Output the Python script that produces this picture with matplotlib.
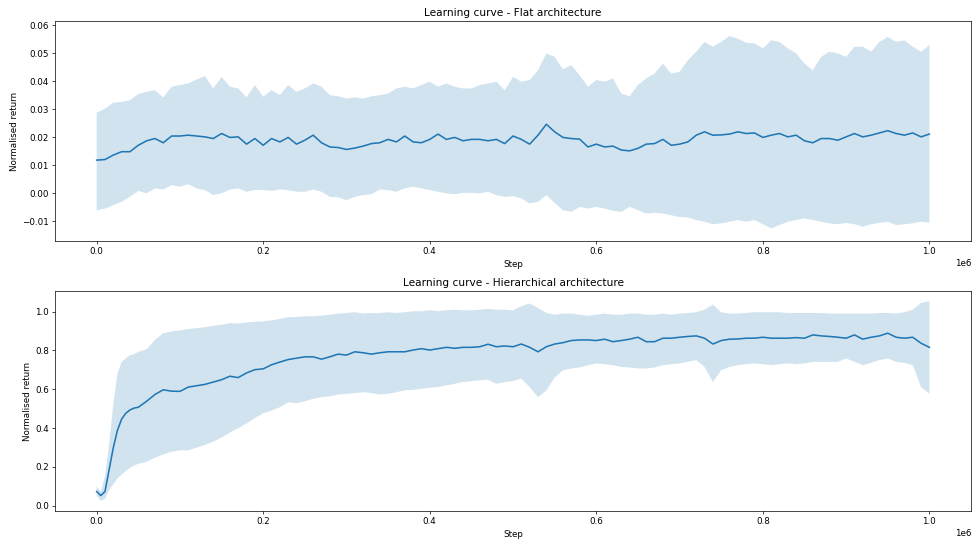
import numpy as np
import matplotlib
matplotlib.use("Agg")
import matplotlib.pyplot as plt

# grid of training steps (x 1e6)
flat_steps = np.linspace(0, 1e6, 101)

flat_mean = [
    0.0118, 0.0120, 0.0136, 0.0148, 0.0148, 0.0171, 0.0187, 0.0195, 0.0180, 0.0204,
    0.0204, 0.0207, 0.0204, 0.0201, 0.0195, 0.0213, 0.0199, 0.0201, 0.0175, 0.0195,
    0.0171, 0.0195, 0.0183, 0.0199, 0.0175, 0.0189, 0.0207, 0.0180, 0.0165, 0.0163,
    0.0156, 0.0161, 0.0168, 0.0177, 0.0180, 0.0192, 0.0183, 0.0204, 0.0183, 0.0180,
    0.0192, 0.0211, 0.0192, 0.0199, 0.0187, 0.0192, 0.0192, 0.0187, 0.0192, 0.0177,
    0.0204, 0.0192, 0.0175, 0.0207, 0.0246, 0.0219, 0.0199, 0.0195, 0.0193, 0.0165,
    0.0175, 0.0165, 0.0168, 0.0154, 0.0151, 0.0160, 0.0175, 0.0177, 0.0192, 0.0171,
    0.0175, 0.0183, 0.0207, 0.0219, 0.0207, 0.0208, 0.0211, 0.0219, 0.0213, 0.0215,
    0.0199, 0.0207, 0.0213, 0.0201, 0.0207, 0.0187, 0.0180, 0.0195, 0.0195, 0.0189,
    0.0201, 0.0213, 0.0201, 0.0207, 0.0215, 0.0223, 0.0213, 0.0207, 0.0215, 0.0201,
    0.0211,
]
flat_upper = [
    0.0287, 0.0302, 0.0323, 0.0326, 0.0332, 0.0354, 0.0362, 0.0368, 0.0342, 0.0380,
    0.0386, 0.0392, 0.0406, 0.0418, 0.0374, 0.0415, 0.0380, 0.0374, 0.0342, 0.0386,
    0.0344, 0.0368, 0.0350, 0.0386, 0.0362, 0.0374, 0.0392, 0.0380, 0.0350, 0.0346,
    0.0338, 0.0342, 0.0338, 0.0346, 0.0350, 0.0356, 0.0374, 0.0380, 0.0374, 0.0386,
    0.0398, 0.0380, 0.0392, 0.0380, 0.0374, 0.0374, 0.0386, 0.0392, 0.0398, 0.0368,
    0.0415, 0.0398, 0.0404, 0.0439, 0.0499, 0.0487, 0.0442, 0.0457, 0.0421, 0.0380,
    0.0404, 0.0398, 0.0410, 0.0356, 0.0346, 0.0386, 0.0410, 0.0427, 0.0463, 0.0427,
    0.0433, 0.0475, 0.0505, 0.0540, 0.0523, 0.0540, 0.0561, 0.0552, 0.0537, 0.0535,
    0.0517, 0.0546, 0.0540, 0.0517, 0.0499, 0.0463, 0.0439, 0.0487, 0.0505, 0.0499,
    0.0487, 0.0523, 0.0523, 0.0505, 0.0540, 0.0558, 0.0540, 0.0546, 0.0523, 0.0505,
    0.0529,
]
flat_lower = [
    -0.0061, -0.0055, -0.0043, -0.0031, -0.0013, 0.0008, -0.0001, 0.0017, 0.0013, 0.0029,
    0.0023, 0.0032, 0.0017, 0.0011, -0.0007, -0.0001, 0.0013, 0.0017, 0.0005, 0.0011,
    0.0011, 0.0008, 0.0013, 0.0011, 0.0005, 0.0005, 0.0013, 0.0005, -0.0013, -0.0015,
    -0.0025, -0.0013, -0.0007, -0.0004, 0.0013, 0.0011, 0.0005, 0.0017, 0.0023, 0.0017,
    0.0011, 0.0005, -0.0001, -0.0004, 0.0001, 0.0001, -0.0001, 0.0005, -0.0007, -0.0013,
    -0.0011, -0.0019, -0.0037, -0.0031, -0.0007, -0.0035, -0.0061, -0.0067, -0.0049, -0.0055,
    -0.0049, -0.0055, -0.0063, -0.0067, -0.0049, -0.0061, -0.0073, -0.0070, -0.0073, -0.0079,
    -0.0085, -0.0087, -0.0096, -0.0102, -0.0111, -0.0108, -0.0102, -0.0096, -0.0102, -0.0096,
    -0.0111, -0.0126, -0.0114, -0.0102, -0.0096, -0.0090, -0.0096, -0.0102, -0.0108, -0.0111,
    -0.0106, -0.0111, -0.0120, -0.0111, -0.0106, -0.0102, -0.0114, -0.0111, -0.0108, -0.0102,
    -0.0106,
]

# finer sampling at the start where the hierarchical curve shoots up
hier_steps = np.concatenate([
    [0, 5e3, 10e3, 15e3, 20e3, 25e3, 30e3, 35e3, 40e3, 45e3, 50e3],
    np.linspace(60e3, 1e6, 95),
])

hier_mean = [
    0.073, 0.052, 0.073, 0.186, 0.299, 0.389, 0.446, 0.476, 0.493, 0.503, 0.507,
    0.538, 0.573, 0.597, 0.590,
    0.589, 0.611, 0.618, 0.625, 0.637, 0.649, 0.667, 0.660, 0.684, 0.701,
    0.705, 0.726, 0.740, 0.753, 0.760, 0.767, 0.767, 0.755, 0.767, 0.781,
    0.776, 0.793, 0.788, 0.781, 0.788, 0.793, 0.793, 0.793, 0.802, 0.809,
    0.802, 0.809, 0.816, 0.811, 0.816, 0.816, 0.819, 0.832, 0.819, 0.823,
    0.819, 0.833, 0.816, 0.793, 0.819, 0.833, 0.840, 0.851, 0.854, 0.854,
    0.851, 0.858, 0.845, 0.851, 0.858, 0.868, 0.845, 0.845, 0.863, 0.863,
    0.868, 0.872, 0.875, 0.863, 0.833, 0.851, 0.858, 0.859, 0.863, 0.863,
    0.868, 0.863, 0.863, 0.863, 0.866, 0.863, 0.880, 0.875, 0.872, 0.868,
    0.863, 0.880, 0.858, 0.868, 0.875, 0.889, 0.868, 0.863, 0.868, 0.837,
    0.816,
]
hier_upper = [
    0.099, 0.073, 0.151, 0.316, 0.524, 0.681, 0.741, 0.759, 0.776, 0.781, 0.793,
    0.806, 0.854, 0.889, 0.898,
    0.903, 0.910, 0.915, 0.920, 0.927, 0.932, 0.941, 0.938, 0.944, 0.948,
    0.950, 0.955, 0.962, 0.972, 0.972, 0.976, 0.976, 0.979, 0.984, 0.990,
    0.993, 0.997, 0.990, 0.993, 0.993, 0.997, 0.993, 0.997, 1.002, 1.002,
    1.007, 1.002, 1.007, 1.010, 1.007, 1.007, 1.010, 1.014, 1.010, 1.010,
    1.007, 1.028, 1.042, 1.019, 0.993, 0.984, 0.990, 0.990, 0.984, 0.979,
    0.984, 0.990, 0.984, 0.984, 0.990, 0.990, 0.984, 0.984, 0.990, 0.984,
    0.990, 0.993, 0.997, 1.010, 1.036, 0.997, 0.990, 0.990, 0.993, 0.997,
    0.997, 0.997, 0.997, 0.993, 0.993, 0.993, 0.993, 0.993, 0.990, 0.990,
    0.990, 0.990, 0.990, 0.990, 0.993, 0.993, 0.990, 0.997, 1.010, 1.045,
    1.054,
]
hier_lower = [
    0.052, 0.024, 0.035, 0.080, 0.110, 0.140, 0.160, 0.178, 0.195, 0.207, 0.215,
    0.226, 0.247, 0.264, 0.278,
    0.285, 0.285, 0.299, 0.313, 0.330, 0.351, 0.377, 0.399, 0.424, 0.451,
    0.476, 0.490, 0.507, 0.533, 0.528, 0.538, 0.550, 0.559, 0.563, 0.573,
    0.576, 0.580, 0.585, 0.580, 0.573, 0.576, 0.585, 0.594, 0.597, 0.602,
    0.608, 0.611, 0.620, 0.628, 0.637, 0.642, 0.646, 0.649, 0.628, 0.637,
    0.642, 0.655, 0.611, 0.559, 0.594, 0.660, 0.698, 0.707, 0.712, 0.724,
    0.733, 0.729, 0.724, 0.715, 0.712, 0.707, 0.707, 0.712, 0.724, 0.729,
    0.733, 0.741, 0.750, 0.715, 0.637, 0.698, 0.715, 0.724, 0.729, 0.733,
    0.729, 0.724, 0.729, 0.733, 0.729, 0.733, 0.741, 0.741, 0.741, 0.741,
    0.759, 0.741, 0.724, 0.736, 0.750, 0.759, 0.741, 0.736, 0.724, 0.611,
    0.576,
]

# small dpi so default sizes scale down like the original screenshot
fig, (ax1, ax2) = plt.subplots(2, 1, figsize=(972 / 63, 544 / 63), dpi=63)
fig.subplots_adjust(left=0.0566, right=0.999, top=0.961, bottom=0.0607, hspace=0.228)

ax1.plot(flat_steps, flat_mean, lw=1.8)
ax1.fill_between(flat_steps, flat_lower, flat_upper, alpha=0.2)
ax1.set_ylim(-0.0171, 0.0614)
ax1.set_title('Learning curve - Flat architecture')
ax1.set_xlabel('Step')
ax1.set_ylabel('Normalised return')

ax2.plot(hier_steps, hier_mean, lw=1.8)
ax2.fill_between(hier_steps, hier_lower, hier_upper, alpha=0.2)
ax2.set_title('Learning curve - Hierarchical architecture')
ax2.set_xlabel('Step')
ax2.set_ylabel('Normalised return')

plt.savefig('out.png', dpi=63)
